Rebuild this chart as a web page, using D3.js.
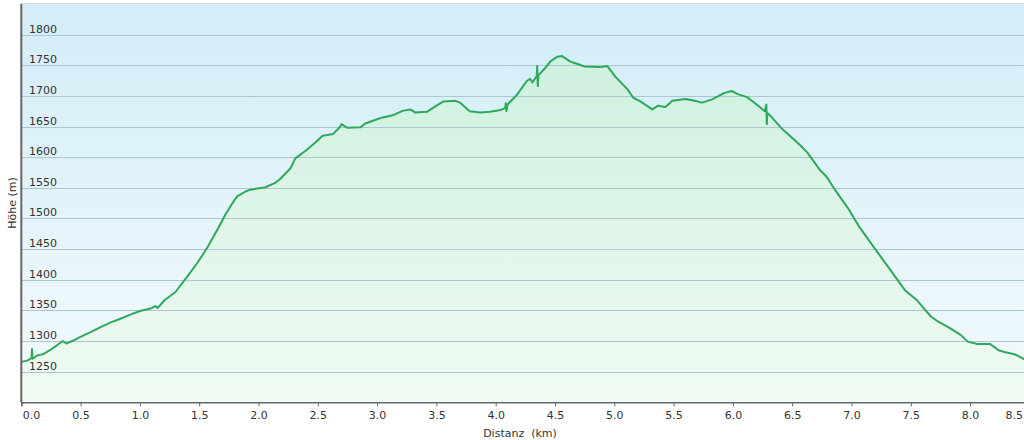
<!DOCTYPE html>
<html lang="de">
<head>
<meta charset="UTF-8">
<title>Höhenprofil</title>
<style>
    body { margin: 0; background: #fff; }
    svg { display: block; font-family: "DejaVu Sans", Verdana, sans-serif; }
    .grid line { stroke: #aec6cf; stroke-width: 1.2; shape-rendering: crispEdges; }
    .tick-label { font-size: 11px; fill: #333; }
</style>
</head>
<body>
<script src="https://cdn.jsdelivr.net/npm/d3@7"></script>
<script>
    // Distanz in km
    var distanz = [
        0.00, 0.05, 0.086, 0.09, 0.095, 0.13, 0.19, 0.24, 0.30, 0.35, 0.38, 0.43, 0.49, 0.58, 0.66,
        0.75, 0.83, 0.92, 1.00, 1.09, 1.13, 1.15, 1.21, 1.30, 1.41, 1.49, 1.57, 1.66, 1.72, 1.78,
        1.82, 1.89, 1.93, 2.06, 2.14, 2.18, 2.27, 2.31, 2.40, 2.48, 2.54, 2.63, 2.69, 2.70, 2.75,
        2.86, 2.90, 3.03, 3.14, 3.22, 3.28, 3.32, 3.42, 3.49, 3.56, 3.66, 3.70, 3.78, 3.87, 3.95,
        4.04, 4.08, 4.085, 4.09, 4.10, 4.18, 4.26, 4.29, 4.31, 4.345, 4.35, 4.355, 4.36, 4.42, 4.46,
        4.52, 4.56, 4.63, 4.69, 4.75, 4.88, 4.94, 5.01, 5.11, 5.16, 5.22, 5.32, 5.37, 5.43, 5.49,
        5.60, 5.68, 5.74, 5.82, 5.87, 5.93, 5.99, 6.04, 6.12, 6.20, 6.27, 6.282, 6.286, 6.29, 6.31,
        6.42, 6.52, 6.57, 6.63, 6.73, 6.79, 6.86, 6.97, 7.07, 7.20, 7.35, 7.45, 7.55, 7.62, 7.67,
        7.72, 7.83, 7.92, 7.98, 8.06, 8.17, 8.24, 8.29, 8.38, 8.46
    ];
    // Höhe in m
    var hoehe = [
        1266, 1268, 1272, 1287, 1271, 1276, 1279, 1285, 1293, 1300, 1296, 1300, 1306, 1314, 1322,
        1330, 1336, 1343, 1349, 1353, 1357, 1354, 1367, 1380, 1408, 1429, 1453, 1484, 1506, 1525,
        1536, 1544, 1547, 1551, 1558, 1564, 1582, 1598, 1611, 1624, 1635, 1638, 1650, 1654, 1648,
        1649, 1655, 1664, 1669, 1676, 1678, 1673, 1674, 1683, 1691, 1692, 1689, 1675, 1673, 1674,
        1677, 1680, 1688, 1675, 1686, 1702, 1724, 1728, 1722, 1732, 1749, 1716, 1734, 1746, 1756,
        1764, 1765, 1756, 1752, 1748, 1747, 1749, 1731, 1711, 1697, 1691, 1678, 1684, 1682, 1692,
        1695, 1692, 1689, 1694, 1699, 1705, 1708, 1703, 1698, 1686, 1675, 1686, 1654, 1672, 1669,
        1645, 1628, 1619, 1607, 1580, 1568, 1547, 1517, 1485, 1450, 1410, 1383, 1367, 1351, 1340,
        1333, 1321, 1310, 1299, 1295, 1295, 1285, 1282, 1278, 1270
    ];
    var yTicks = [1250, 1300, 1350, 1400, 1450, 1500, 1550, 1600, 1650, 1700, 1750, 1800];
    var xTicks = [0, 0.5, 1, 1.5, 2, 2.5, 3, 3.5, 4, 4.5, 5, 5.5, 6, 6.5, 7, 7.5, 8, 8.5];

    var width = 1024, height = 440;
    var pLeft = 21.3, pTop = 4, pBottom = 402.3, pRight = 1024;

    var data = distanz.map(function(d, i) { return { km: d, m: hoehe[i] }; });

    var x = d3.scaleLinear().domain([0, 8.5]).range([pLeft, pLeft + 8.5 * 118.6]);
    var y = d3.scaleLinear().domain([1200, 1850]).range([pBottom, pTop]);

    var svg = d3.select("body").append("svg")
        .attr("width", width)
        .attr("height", height);

    var defs = svg.append("defs");
    var bg = defs.append("linearGradient").attr("id", "bg")
        .attr("x1", 0).attr("y1", 0).attr("x2", 0).attr("y2", 1);
    bg.append("stop").attr("offset", "0%").attr("stop-color", "#d2edf8");
    bg.append("stop").attr("offset", "100%").attr("stop-color", "#f3fafc");

    var ar = defs.append("linearGradient").attr("id", "ar")
        .attr("gradientUnits", "userSpaceOnUse")
        .attr("x1", 0).attr("y1", pTop).attr("x2", 0).attr("y2", pBottom);
    ar.append("stop").attr("offset", "0%").attr("stop-color", "#c9efdc");
    ar.append("stop").attr("offset", "100%").attr("stop-color", "#f0fbf3");

    defs.append("clipPath").attr("id", "plot")
        .append("rect").attr("x", pLeft).attr("y", pTop)
        .attr("width", pRight - pLeft).attr("height", pBottom - pTop);

    // Hintergrund
    svg.append("rect")
        .attr("x", pLeft).attr("y", pTop)
        .attr("width", pRight - pLeft).attr("height", pBottom - pTop)
        .attr("fill", "url(#bg)");

    var plot = svg.append("g").attr("clip-path", "url(#plot)");

    // Fläche
    var area = d3.area()
        .x(function(d) { return x(d.km); })
        .y0(pBottom)
        .y1(function(d) { return y(d.m); });
    plot.append("path").datum(data)
        .attr("d", area)
        .attr("fill", "url(#ar)");

    // Gitterlinien
    plot.append("g").attr("class", "grid")
        .selectAll("line").data(yTicks).enter().append("line")
        .attr("x1", pLeft).attr("x2", pRight)
        .attr("y1", function(d) { return Math.round(y(d)) + 0.5; })
        .attr("y2", function(d) { return Math.round(y(d)) + 0.5; });

    // Linie
    var line = d3.line()
        .x(function(d) { return x(d.km); })
        .y(function(d) { return y(d.m); });
    plot.append("path").datum(data)
        .attr("d", line)
        .attr("fill", "none")
        .attr("stroke", "#2ea85c")
        .attr("stroke-width", 2)
        .attr("stroke-linejoin", "round");

    // Rahmen oben
    svg.append("line")
        .attr("x1", pLeft).attr("x2", pRight)
        .attr("y1", pTop - 0.5).attr("y2", pTop - 0.5)
        .attr("stroke", "#d6d6d6");

    // Y-Beschriftung
    svg.append("g").selectAll("text").data(yTicks).enter().append("text")
        .attr("class", "tick-label")
        .attr("x", 29)
        .attr("y", function(d) { return y(d) - 2; })
        .text(function(d) { return d; });

    // X-Achse
    var xAxis = d3.axisBottom(x).tickValues(xTicks).tickSize(4).tickPadding(5)
        .tickFormat(d3.format(".1f"));
    var gx = svg.append("g")
        .attr("transform", "translate(0," + pBottom + ")")
        .call(xAxis);
    gx.select(".domain").attr("stroke", "#666").attr("stroke-width", 1.5);
    gx.selectAll(".tick line").attr("stroke", "#666");
    gx.selectAll(".tick text")
        .attr("class", "tick-label")
        .attr("fill", "#333");
    gx.attr("font-family", null).attr("font-size", null);
    gx.selectAll(".tick").filter(function(d) { return d === 8.5; })
        .attr("transform", null)
        .select("text").attr("x", 1023).attr("text-anchor", "end");
    gx.selectAll(".tick").filter(function(d) { return d === 8.5; })
        .select("line").remove();
    gx.selectAll(".tick").filter(function(d) { return d === 0; })
        .select("text").attr("x", 1).attr("text-anchor", "start");

    // Y-Achse
    svg.append("line")
        .attr("x1", pLeft).attr("x2", pLeft)
        .attr("y1", pTop).attr("y2", pBottom)
        .attr("stroke", "#666").attr("stroke-width", 2);

    // Achsentitel
    svg.append("text")
        .attr("x", 520).attr("y", 437)
        .attr("text-anchor", "middle")
        .attr("class", "tick-label")
        .style("white-space", "pre")
        .text("Distanz  (km)");
    svg.append("text")
        .attr("transform", "translate(16,203) rotate(-90)")
        .attr("text-anchor", "middle")
        .attr("class", "tick-label")
        .text("Höhe (m)");
</script>
</body>
</html>
